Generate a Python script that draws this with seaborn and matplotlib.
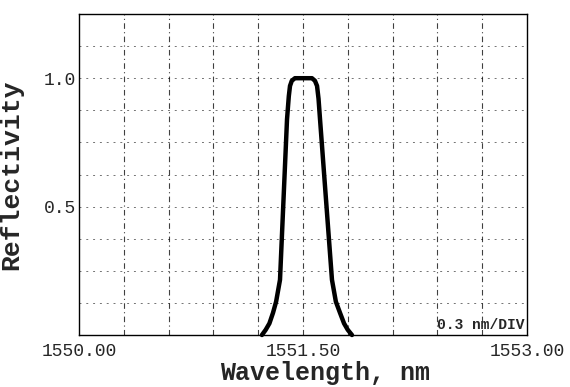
import matplotlib
matplotlib.use("Agg")
import matplotlib.pyplot as plt
import seaborn as sns
import pandas as pd

# Data
wavelength = [1551.225, 1551.25, 1551.275, 1551.299, 1551.32, 1551.346, 1551.393, 1551.405, 1551.413,
              1551.425, 1551.446, 1551.505, 1551.560, 1551.58, 1551.594, 1551.604, 1551.614, 1551.694,
              1551.72, 1551.748, 1551.775, 1551.80, 1551.828]
reflectivity = [0.0, 0.02, 0.045, 0.086, 0.13, 0.215, 0.84, 0.93, 0.97,
                0.99, 1.0, 1.0, 1.0, 0.99, 0.97, 0.92, 0.84, 0.215,
                0.13, 0.086, 0.045, 0.02, 0.0]
x_ticks = [1550.00, 1551.50, 1553.00]
x_tick_labels = ["1550.00", "1551.50", "1553.00"]
y_ticks = [0.5, 1.0]
y_tick_labels = ["0.5", "1.0"]
x_grid = [1550.0 + 0.3 * i for i in range(1, 10)]
y_grid = [0.125 * i for i in range(1, 10)]

sns.set_style("white")
plt.rcParams['font.family'] = ['Liberation Mono', 'DejaVu Sans Mono']

df = pd.DataFrame({"Wavelength": wavelength, "Reflectivity": reflectivity})

fig = plt.figure(figsize=(5.7, 3.87), dpi=100)
ax = fig.add_axes([79/570, 52/387, 448/570, 321/387])

for xv in x_grid:
    ax.axvline(xv, color="black", lw=0.8, alpha=0.75, linestyle=(0, (5, 3, 1, 3)), zorder=1)
for yv in y_grid:
    ax.axhline(yv, color="black", lw=0.7, alpha=0.55, linestyle=(0, (2, 5)), zorder=1)

sns.lineplot(data=df, x="Wavelength", y="Reflectivity", ax=ax, color="black",
             lw=3.2, sort=False, zorder=3, clip_on=False)
for ln in ax.get_lines():
    ln.set_solid_joinstyle("round")
    ln.set_solid_capstyle("round")

ax.set_xlim(1550.0, 1553.0)
ax.set_ylim(0.0, 1.25)
ax.set_xticks(x_ticks)
ax.set_xticklabels(x_tick_labels)
ax.set_yticks(y_ticks)
ax.set_yticklabels(y_tick_labels)
ax.tick_params(axis="both", length=0, labelsize=13, pad=6)
ax.tick_params(axis="y", pad=2)

for s in ax.spines.values():
    s.set_color("black")
    s.set_linewidth(1.0)

ax.set_xlabel("Wavelength, nm", fontsize=18, fontweight="bold")
ax.set_ylabel("Reflectivity", fontsize=19, fontweight="bold")
ax.xaxis.label.set_verticalalignment("baseline")
ax.xaxis.set_label_coords(0.55, -0.14)
ax.yaxis.set_label_coords(-0.125, 0.5)

ax.text(0.995, 0.03, "0.3 nm/DIV", transform=ax.transAxes, ha="right", va="center",
        fontsize=10.5, fontweight="bold")

fig.savefig("out.png", dpi=100)
